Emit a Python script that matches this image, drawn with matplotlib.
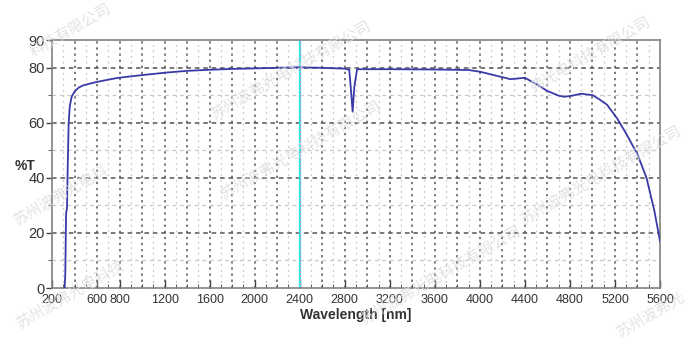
import numpy as np
import matplotlib.pyplot as plt

# transmission curve
wavelength = [312, 318, 325, 333, 340, 348, 358, 375, 404, 440, 475, 540, 600, 700, 777,
              900, 1008, 1221, 1400, 1600, 1800, 2000, 2200, 2400, 2600, 2800, 2840,
              2855, 2870, 2885, 2910, 2950, 3200, 3600, 3900, 4000, 4100, 4180, 4270,
              4330, 4400, 4500, 4600, 4700, 4750, 4820, 4900, 5000, 5060, 5130, 5220,
              5300, 5400, 5480, 5550, 5600]
transmission = [0, 5, 27, 29, 45, 60, 66, 69.5, 71.5, 72.8, 73.5, 74.2, 74.8, 75.6, 76.2,
                76.8, 77.3, 78.2, 78.8, 79.2, 79.5, 79.7, 79.9, 80.1, 79.9, 79.6, 79.2,
                72, 64, 73, 79.4, 79.4, 79.4, 79.3, 79.1, 78.5, 77.5, 76.7, 75.8,
                76.0, 76.3, 74, 71.5, 69.8, 69.4, 69.8, 70.5, 70, 68.5, 66.5, 61.5,
                56, 48.5, 40, 28, 17]

xtick_vals = [200, 600, 800, 1200, 1600, 2000, 2400, 2800, 3200, 3600, 4000, 4400, 4800, 5200, 5600]
ytick_vals = [0, 20, 40, 60, 80, 90]
cursor_wl = 2400

# watermark pieces (text, x px, y px)
watermarks = [("科技有限公司", 70, 30),
              ("苏州波弗光电科技有限公司", 290, 70),
              ("弗光电科技有限公司", 590, 55),
              ("苏州波弗光电科", 60, 195),
              ("苏州波弗光电科技有限公司", 300, 150),
              ("苏州波弗光电科技有限公司", 600, 175),
              ("苏州波弗光电科技", 70, 295),
              ("苏州波弗光电科技有限公司", 440, 275),
              ("苏州波弗光", 650, 315)]

plt.rcParams['font.family'] = ['Liberation Sans', 'DejaVu Sans']

fig = plt.figure(figsize=(6.93, 3.42), dpi=100)
ax = fig.add_axes([52 / 693, 54 / 342, 608 / 693, 248 / 342])
ax.set_xlim(200, 5600)
ax.set_ylim(0, 90)

# grid
for x in range(300, 5600, 200):
    ax.axvline(x, color='#c8c8c8', lw=0.9, ls=(0, (1.5, 3)), zorder=1)
for x in range(400, 5600, 200):
    ax.axvline(x, color='#555555', lw=1.1, ls=(0, (1.5, 2.5)), zorder=1)
for y in [10, 30, 50, 70]:
    ax.axhline(y, color='#c8c8c8', lw=0.9, ls=(0, (3, 3)), zorder=1)
for y in [20, 40, 60, 80]:
    ax.axhline(y, color='#555555', lw=1.1, ls=(0, (3, 2.5)), zorder=1)

# cursor line
ax.axvline(cursor_wl, color='#33e6f0', lw=1.6, zorder=2)
ax.axvline(cursor_wl, color='#ff7070', lw=0.8, ls=(0, (1, 2.5)), zorder=2)

ax.plot(wavelength, transmission, color='#3a3aa8', lw=1.3, zorder=3)

ax.set_xticks(xtick_vals)
ax.set_xticks(np.arange(200, 5601, 100), minor=True)
ax.set_yticks(ytick_vals)
ax.set_yticks(np.arange(0, 91, 10), minor=True)
ax.tick_params(axis='x', direction='in', length=6, width=1, color='#444444',
               labelsize=9, labelcolor='#333333', pad=4)
ax.tick_params(axis='x', which='minor', direction='in', length=3, color='#444444')
ax.tick_params(axis='y', direction='out', length=4, width=1, color='#444444',
               labelsize=10.5, labelcolor='#333333', pad=1)
ax.tick_params(axis='y', which='minor', direction='out', length=3, color='#444444')
for s in ax.spines.values():
    s.set_color('#808080')
    s.set_linewidth(1.2)

ax.set_xlabel('Wavelength [nm]', fontsize=10, fontweight='bold', color='#333333', labelpad=2)
fig.text(25 / 693, 1 - 166 / 342, '%T', fontsize=10, fontweight='bold', color='#333333',
         ha='center', va='center')

for txt, px, py in watermarks:
    fig.text(px / 693, 1 - py / 342, txt, fontsize=11, color='#dcdcdc', alpha=0.8,
             rotation=30, ha='center', va='center', family=['Noto Sans CJK SC'], zorder=10)

fig.savefig('out.png', dpi=100)
